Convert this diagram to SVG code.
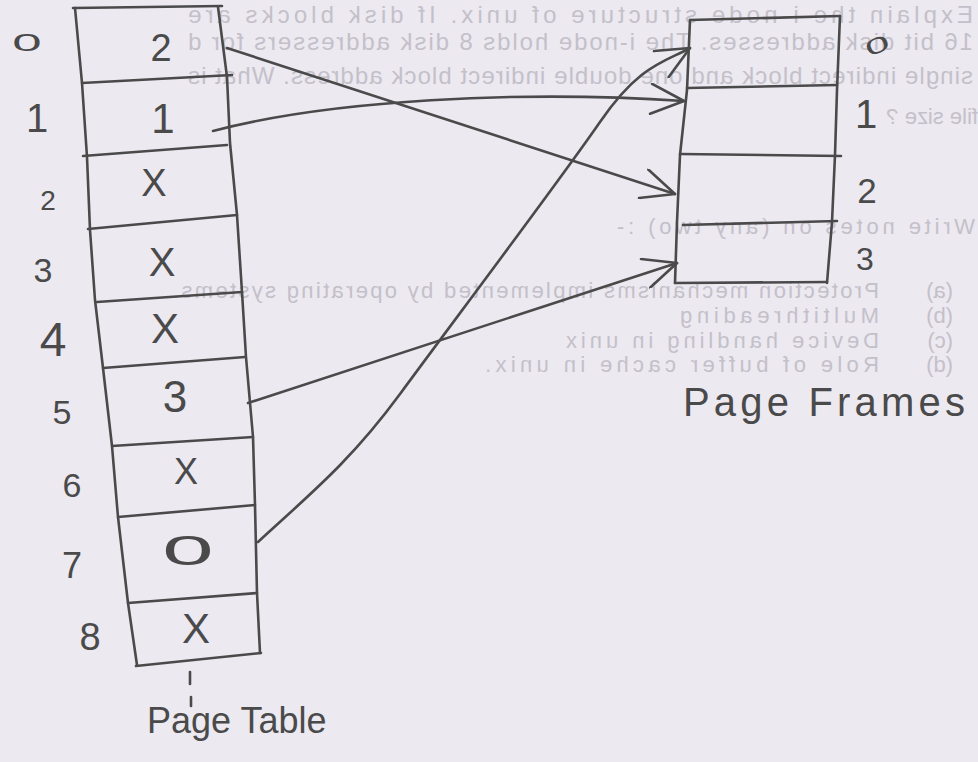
<svg xmlns="http://www.w3.org/2000/svg" width="978" height="762" viewBox="0 0 978 762">
<style>
.ink{fill:none;stroke:#4a4a4a;stroke-width:2.6;stroke-linecap:round;stroke-linejoin:round}
.hw{font-family:"Liberation Sans","DejaVu Sans",sans-serif;fill:#4a4a4a;text-anchor:middle}
.bt{font-family:"Liberation Sans",Arial,sans-serif;fill:#c4c0c9;font-size:24px}
.bl{font-size:22px}
</style>
<defs>
<marker id="ah" viewBox="0 0 40 32" refX="38" refY="16" markerWidth="40" markerHeight="32" markerUnits="userSpaceOnUse" orient="auto">
<path d="M5,1 L38,16 L5,31" fill="none" stroke="#4a4a4a" stroke-width="2.6" stroke-linecap="round" stroke-linejoin="round"/>
</marker>
</defs>
<rect width="978" height="762" fill="#ece9f1"/>

<g id="bleed-through" class="bt" transform="matrix(-1 0 0 1 978 0)">
<text x="5" y="23" textLength="785" lengthAdjust="spacing">Explain the i-node structure of unix. If disk blocks are</text>
<text x="5" y="50" textLength="785" lengthAdjust="spacing">16 bit disk addresses. The i-node holds 8 disk addressers for d</text>
<text x="5" y="84" textLength="785" lengthAdjust="spacing">single indirect block and one double indirect block address. What is</text>
<text x="0" y="124" font-size="22">file size ?</text>
<g class="bl">
<text x="3" y="234" textLength="358" lengthAdjust="spacing">Write notes on (any two) :-</text>
<text x="25" y="298">(a)</text>
<text x="99" y="298" textLength="706" lengthAdjust="spacing">Protection mechanisms implemented by operating systems.</text>
<text x="25" y="323">(b)</text>
<text x="99" y="323" textLength="199" lengthAdjust="spacing">Multithreading</text>
<text x="25" y="348">(c)</text>
<text x="99" y="348" textLength="313" lengthAdjust="spacing">Device handling in unix</text>
<text x="25" y="372">(d)</text>
<text x="99" y="372" textLength="394" lengthAdjust="spacing">Role of buffer cache in unix.</text>
</g>
</g>

<g id="page-table">
<polyline class="ink" points="73,8 222,6"/>
<polyline class="ink" points="75,8 82,83 87,157 90,230 95,300 103,368 112,446 118,517 128,603 137,665"/>
<polyline class="ink" points="218,7 227,77 230,143 237,215 242,292 246,357 253,437 255,505 257,593 260,653"/>
<polyline class="ink" points="136,666 261,653"/>
<line class="ink" x1="82" y1="83" x2="232" y2="75"/>
<line class="ink" x1="83" y1="156" x2="227" y2="145"/>
<line class="ink" x1="88" y1="229" x2="237" y2="215"/>
<line class="ink" x1="97" y1="302" x2="242" y2="292"/>
<line class="ink" x1="103" y1="368" x2="245" y2="357"/>
<line class="ink" x1="112" y1="446" x2="253" y2="437"/>
<line class="ink" x1="118" y1="517" x2="255" y2="505"/>
<line class="ink" x1="128" y1="603" x2="257" y2="593"/>
<line class="ink" x1="190" y1="672" x2="190" y2="684"/>
<line class="ink" x1="191" y1="697" x2="191" y2="706"/>
<g class="hw">
<text x="161" y="61" font-size="38">2</text>
<text x="163" y="133" font-size="42">1</text>
<text x="154" y="196" font-size="38">X</text>
<text x="162" y="276" font-size="40">X</text>
<text x="165" y="343" font-size="42">X</text>
<text x="175" y="412" font-size="44">3</text>
<text x="186" y="484" font-size="36">X</text>
<text transform="translate(188,550) scale(2.2,1)" x="0" y="15" font-size="42">0</text>
<text x="196" y="643" font-size="42">X</text>
</g>
<g class="hw">
<text transform="translate(27,42) scale(2.2,1)" x="0" y="8.6" font-size="24">0</text>
<text x="37" y="132" font-size="40">1</text>
<text x="48" y="210" font-size="28">2</text>
<text x="43" y="282" font-size="34">3</text>
<text x="53" y="356" font-size="48">4</text>
<text x="62" y="424" font-size="34">5</text>
<text x="72" y="497" font-size="34">6</text>
<text x="72" y="578" font-size="36">7</text>
<text x="90" y="650" font-size="38">8</text>
</g>
<text class="hw" x="147" y="733" font-size="36" style="text-anchor:start">Page Table</text>
</g>

<g id="page-frames">
<polyline class="ink" points="690,20 840,16"/>
<polyline class="ink" points="690,20 687,90 680,155 677,222 675,283"/>
<polyline class="ink" points="840,16 837,90 835,155 832,222 827,283"/>
<polyline class="ink" points="675,283 827,282"/>
<line class="ink" x1="687" y1="88" x2="837" y2="85"/>
<line class="ink" x1="680" y1="154" x2="841" y2="156"/>
<line class="ink" x1="683" y1="225" x2="837" y2="221"/>
<g class="hw">
<text transform="translate(877,45) rotate(-22) scale(2,1)" x="0" y="8" font-size="22">0</text>
<text x="866" y="128" font-size="40">1</text>
<text x="867" y="203" font-size="35">2</text>
<text x="865" y="270" font-size="32">3</text>
</g>
<text class="hw" x="683" y="416" font-size="40" textLength="282" lengthAdjust="spacing" style="text-anchor:start">Page Frames</text>
</g>

<g id="connectors" class="ink" marker-end="url(#ah)">
<path d="M227,48 L675,194"/>
<path d="M213,131 C330,100 520,90 684,101"/>
<path d="M248,403 L677,263"/>
<path d="M258,542 C310,494 350,462 400,394 S560,180 600,122 C640,64 665,62 690,48"/>
</g>
</svg>
